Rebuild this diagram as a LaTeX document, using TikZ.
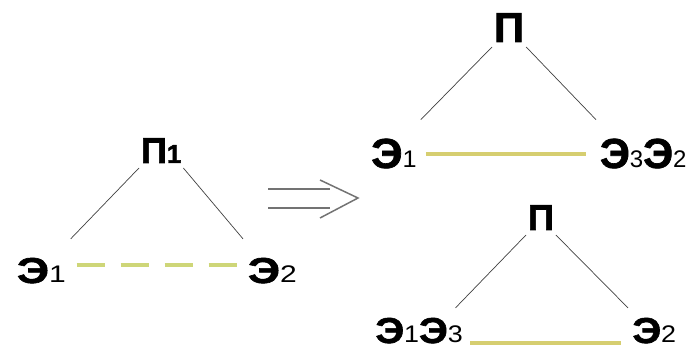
\documentclass[tikz,border=0pt]{standalone}
\usepackage{fontspec}
\setmainfont{Liberation Sans}[BoldFeatures={FakeBold=1.6}]
\usetikzlibrary{calc,positioning}
\definecolor{bondline}{RGB}{214,206,112}
\definecolor{weakline}{RGB}{206,214,120}
\definecolor{arrowgray}{RGB}{115,115,115}
\newcommand{\ix}[1]{{\mdseries\fontsize{24}{24}\selectfont #1}}

\begin{document}
\begin{tikzpicture}[x=1pt, y=-1pt,
    atom/.style={font=\bfseries\fontsize{36}{36}\selectfont, inner sep=0pt,
      outer xsep=4pt, outer ysep=19pt, anchor=base west},
    big/.style={font=\bfseries\fontsize{42}{42}\selectfont},
    head/.style={atom, outer xsep=2pt, outer ysep=5pt},
    link/.style={draw=black!75, line width=0.7pt},
    bond/.style={draw=bondline, line width=4pt},
    weak/.style={draw=weakline, line width=4pt, dash pattern=on 28pt off 16pt},
    implies/.style={draw=arrowgray, line width=1.5pt}]

    \useasboundingbox (0,0) rectangle (689,358);

    % left: П1 with Э1 ... Э2
    \node[head] (p1) at (139,163) {П{\fontsize{26}{26}\selectfont 1}};
    \node[atom, xscale=1.25] (e1) at (12,283) {Э\ix{1}};
    \node[atom, xscale=1.25] (e2) at (243,283) {Э\ix{2}};
    \draw[link] (p1.south west) -- (e1.north east);
    \draw[link] (p1.south east) -- (e2.north west);
    \draw[weak, shorten <=6pt, shorten >=6pt] ([yshift=6pt]e1.east) -- ([yshift=6pt]e2.west);

    % arrow
    \coordinate (tip) at (358,198);
    \draw[implies] (tip) ++(-90,-9) -- ++(62,0);
    \draw[implies] (tip) ++(-90,10) -- ++(62,0);
    \draw[implies] (tip) ++(-38,-18) -- (tip) -- ++(-38,20);

    % top right: Э3 goes to Э2
    \node[head, big] (pa) at (492,42) {П};
    \node[atom, big, xscale=1.05] (ea1) at (367,168) {Э\ix{1}};
    \node[atom, big] (ea32) at (596,168) {Э\ix{3}Э\ix{2}};
    \draw[link] (pa.south west) -- (ea1.north east);
    \draw[link] (pa.south east) -- (ea32.north west);
    \draw[bond, shorten <=5pt, shorten >=10pt] (ea1.east) -- (ea32.west);

    % bottom right: Э3 goes to Э1
    \node[head] (pb) at (526,230) {П};
    \node[atom, xscale=1.12, outer ysep=10pt] (eb13) at (371,343) {Э\ix{1}Э\ix{3}};
    \node[atom, xscale=1.12, outer ysep=10pt] (eb2) at (628,343) {Э\ix{2}};
    \draw[link] (pb.south west) -- (eb13.35);
    \draw[link] (pb.south east) -- (eb2.north west);
    \draw[bond, shorten <=3pt, shorten >=7pt] (eb13.base east) -- (eb2.base west);
\end{tikzpicture}
\end{document}
